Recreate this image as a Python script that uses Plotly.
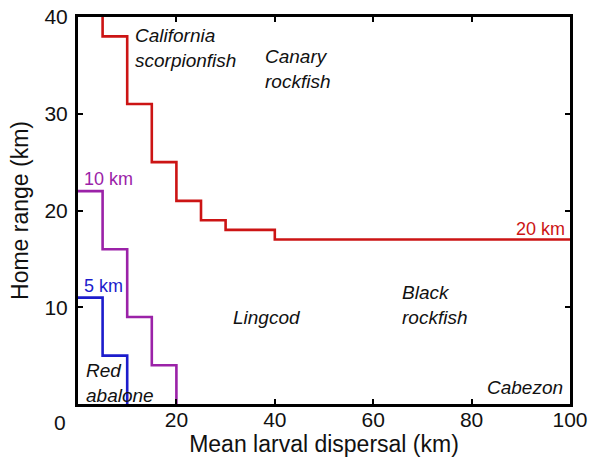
import plotly.graph_objects as go

# 20 km contour (red)
red_x = [5, 5, 10, 10, 15, 15, 20, 20, 25, 25, 30, 30, 40, 40, 100]
red_y = [40, 38, 38, 31, 31, 25, 25, 21, 21, 19, 19, 18, 18, 17, 17]
# 10 km contour (purple)
purple_x = [0, 5, 5, 10, 10, 15, 15, 20, 20]
purple_y = [22, 22, 16, 16, 9, 9, 4, 4, 0]
# 5 km contour (blue)
blue_x = [0, 5, 5, 10, 10]
blue_y = [11, 11, 5, 5, 0]

species = ["California<br>scorpionfish", "Canary<br>rockfish", "Lingcod",
           "Black<br>rockfish", "Red<br>abalone", "Cabezon"]
species_x = [11.2, 37.6, 31.1, 65.4, 1.2, 99.0]
species_y = [36.8, 34.6, 8.9, 10.2, 2.2, 1.7]
species_anchor = ["left", "left", "left", "left", "left", "right"]

RED = "#cc1414"
PURPLE = "#9b22a8"
BLUE = "#1c1ccc"

fig = go.Figure()
for xs, ys, c in [(red_x, red_y, RED), (purple_x, purple_y, PURPLE), (blue_x, blue_y, BLUE)]:
    fig.add_trace(go.Scatter(x=xs, y=ys, mode="lines", line=dict(color=c, width=2.6),
                             showlegend=False, hoverinfo="skip", cliponaxis=True))

font = "Liberation Sans, Arial, sans-serif"
for t, x, y, a in zip(species, species_x, species_y, species_anchor):
    fig.add_annotation(x=x, y=y, text="<i>" + t + "</i>", showarrow=False, xanchor=a,
                       yanchor="middle", align="left",
                       font=dict(family=font, size=19, color="#111111"))

fig.add_annotation(x=0.8, y=22.0, text="10 km", showarrow=False, xanchor="left", yanchor="bottom",
                   font=dict(family=font, size=18, color=PURPLE), yshift=0)
fig.add_annotation(x=0.8, y=11.0, text="5 km", showarrow=False, xanchor="left", yanchor="bottom",
                   font=dict(family=font, size=18, color=BLUE), yshift=0)
fig.add_annotation(x=99.4, y=17.0, text="20 km", showarrow=False, xanchor="right", yanchor="bottom",
                   font=dict(family=font, size=18, color=RED), yshift=-1)
fig.add_annotation(x=0, y=0, text="0", showarrow=False, xanchor="right", yanchor="top",
                   xshift=-10, yshift=-5, font=dict(family=font, size=21, color="#111111"))

axis_common = dict(showgrid=False, zeroline=False, showline=True, linecolor="black", linewidth=3,
                   mirror="ticks", ticks="inside", ticklen=5, tickwidth=2, tickcolor="black",
                   automargin=False,
                   tickfont=dict(family=font, size=21, color="#111111"))
fig.update_xaxes(range=[0, 100], tickvals=[20, 40, 60, 80, 100], ticklabelstandoff=-5,
                 title=dict(text="Mean larval dispersal (km)", font=dict(family=font, size=23, color="#111111"),
                            standoff=2), **axis_common)
fig.update_yaxes(range=[0, 40], tickvals=[10, 20, 30, 40], ticklabelstandoff=3,
                 title=dict(text="Home range (km)", font=dict(family=font, size=23, color="#111111"),
                            standoff=10), **axis_common)

fig.update_layout(width=592, height=467, margin=dict(l=78, r=22, t=17, b=63),
                  plot_bgcolor="white", paper_bgcolor="white", hovermode=False)
fig.write_html("out.html", config={"displayModeBar": False, "staticPlot": True},
               post_script="document.body.style.margin='0';document.body.style.overflow='hidden';")
